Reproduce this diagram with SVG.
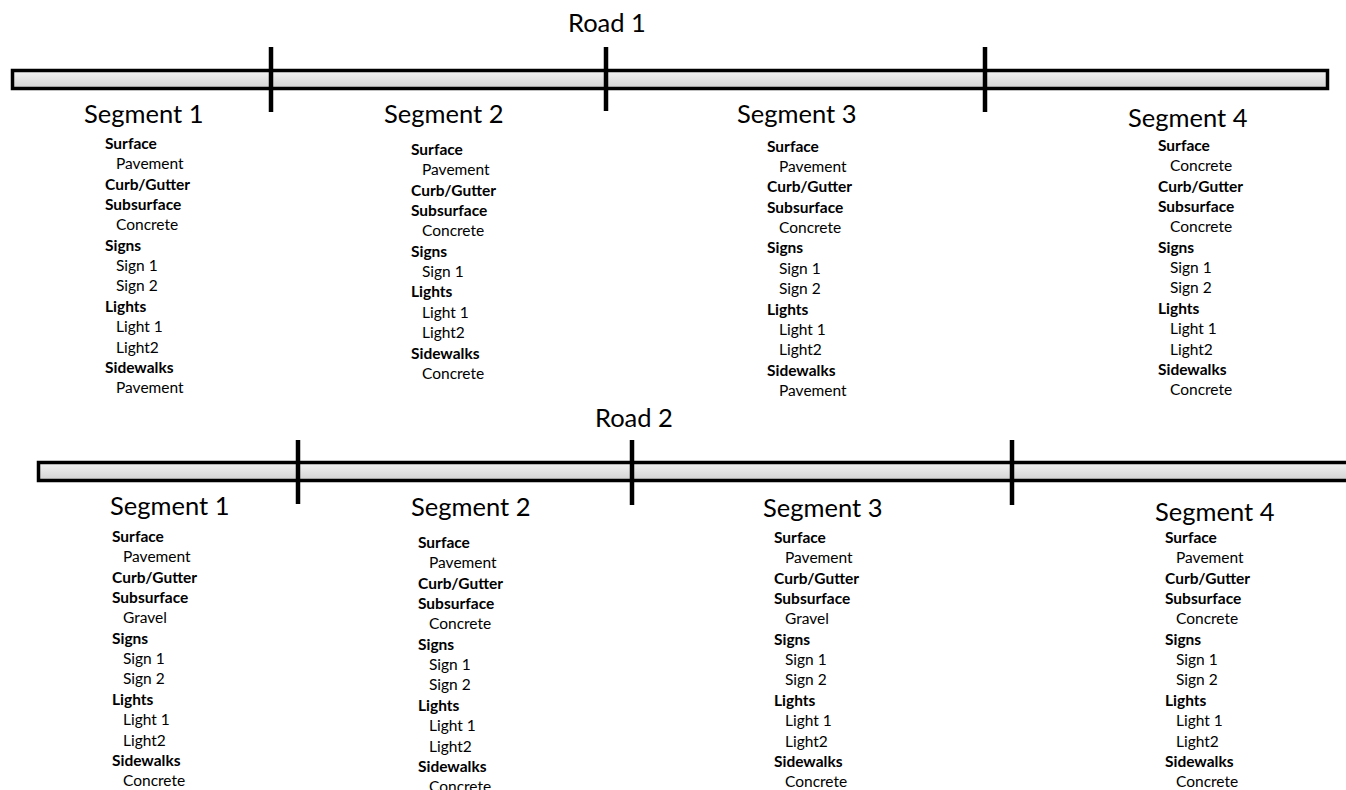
<svg xmlns="http://www.w3.org/2000/svg" width="1346" height="790" viewBox="0 0 1346 790">
  <style>
    .title { font-family: Lato, "Liberation Sans", sans-serif; font-size: 25.5px; fill: #000; }
    .list { font-family: Lato, "Liberation Sans", sans-serif; font-size: 15.5px; fill: #000; }
    .h { font-weight: bold; }
    .bar { fill: url(#barFill); stroke: #000; stroke-width: 3.5; }
    .div { stroke: #000; stroke-width: 4.5; }
  </style>
  <defs>
    <linearGradient id="barFill" x1="0" y1="0" x2="0" y2="1">
      <stop offset="0" stop-color="#f3f3f3"/>
      <stop offset="1" stop-color="#d2d2d2"/>
    </linearGradient>
  </defs>
  <rect width="1346" height="790" fill="#fff"/>

  <!-- Road 1 -->
  <g id="road1">
    <text class="title" x="568" y="32">Road 1</text>
    <rect class="bar" x="12.5" y="70.5" width="1315" height="18"/>
    <line class="div" x1="271" y1="47" x2="271" y2="112"/>
    <line class="div" x1="606" y1="47" x2="606" y2="111"/>
    <line class="div" x1="985" y1="47" x2="985" y2="112"/>
  </g>

  <g id="r1-seg1">
    <text class="title" x="84" y="123">Segment 1</text>
    <text class="list" y="149">
      <tspan class="h" x="105">Surface</tspan>
      <tspan x="116" dy="20.35">Pavement</tspan>
      <tspan class="h" x="105" dy="20.35">Curb/Gutter</tspan>
      <tspan class="h" x="105" dy="20.35">Subsurface</tspan>
      <tspan x="116" dy="20.35">Concrete</tspan>
      <tspan class="h" x="105" dy="20.35">Signs</tspan>
      <tspan x="116" dy="20.35">Sign 1</tspan>
      <tspan x="116" dy="20.35">Sign 2</tspan>
      <tspan class="h" x="105" dy="20.35">Lights</tspan>
      <tspan x="116" dy="20.35">Light 1</tspan>
      <tspan x="116" dy="20.35">Light2</tspan>
      <tspan class="h" x="105" dy="20.35">Sidewalks</tspan>
      <tspan x="116" dy="20.35">Pavement</tspan>
    </text>
  </g>

  <g id="r1-seg2">
    <text class="title" x="384" y="123">Segment 2</text>
    <text class="list" y="155">
      <tspan class="h" x="411">Surface</tspan>
      <tspan x="422" dy="20.35">Pavement</tspan>
      <tspan class="h" x="411" dy="20.35">Curb/Gutter</tspan>
      <tspan class="h" x="411" dy="20.35">Subsurface</tspan>
      <tspan x="422" dy="20.35">Concrete</tspan>
      <tspan class="h" x="411" dy="20.35">Signs</tspan>
      <tspan x="422" dy="20.35">Sign 1</tspan>
      <tspan class="h" x="411" dy="20.35">Lights</tspan>
      <tspan x="422" dy="20.35">Light 1</tspan>
      <tspan x="422" dy="20.35">Light2</tspan>
      <tspan class="h" x="411" dy="20.35">Sidewalks</tspan>
      <tspan x="422" dy="20.35">Concrete</tspan>
    </text>
  </g>

  <g id="r1-seg3">
    <text class="title" x="737" y="123">Segment 3</text>
    <text class="list" y="151.7">
      <tspan class="h" x="767">Surface</tspan>
      <tspan x="779" dy="20.35">Pavement</tspan>
      <tspan class="h" x="767" dy="20.35">Curb/Gutter</tspan>
      <tspan class="h" x="767" dy="20.35">Subsurface</tspan>
      <tspan x="779" dy="20.35">Concrete</tspan>
      <tspan class="h" x="767" dy="20.35">Signs</tspan>
      <tspan x="779" dy="20.35">Sign 1</tspan>
      <tspan x="779" dy="20.35">Sign 2</tspan>
      <tspan class="h" x="767" dy="20.35">Lights</tspan>
      <tspan x="779" dy="20.35">Light 1</tspan>
      <tspan x="779" dy="20.35">Light2</tspan>
      <tspan class="h" x="767" dy="20.35">Sidewalks</tspan>
      <tspan x="779" dy="20.35">Pavement</tspan>
    </text>
  </g>

  <g id="r1-seg4">
    <text class="title" x="1128" y="127">Segment 4</text>
    <text class="list" y="151">
      <tspan class="h" x="1158">Surface</tspan>
      <tspan x="1170" dy="20.35">Concrete</tspan>
      <tspan class="h" x="1158" dy="20.35">Curb/Gutter</tspan>
      <tspan class="h" x="1158" dy="20.35">Subsurface</tspan>
      <tspan x="1170" dy="20.35">Concrete</tspan>
      <tspan class="h" x="1158" dy="20.35">Signs</tspan>
      <tspan x="1170" dy="20.35">Sign 1</tspan>
      <tspan x="1170" dy="20.35">Sign 2</tspan>
      <tspan class="h" x="1158" dy="20.35">Lights</tspan>
      <tspan x="1170" dy="20.35">Light 1</tspan>
      <tspan x="1170" dy="20.35">Light2</tspan>
      <tspan class="h" x="1158" dy="20.35">Sidewalks</tspan>
      <tspan x="1170" dy="20.35">Concrete</tspan>
    </text>
  </g>

  <!-- Road 2 -->
  <g id="road2">
    <text class="title" x="595" y="427">Road 2</text>
    <rect class="bar" x="38.5" y="462.5" width="1320" height="18"/>
    <line class="div" x1="298" y1="440" x2="298" y2="504"/>
    <line class="div" x1="632" y1="440" x2="632" y2="505"/>
    <line class="div" x1="1012" y1="440" x2="1012" y2="505"/>
  </g>

  <g id="r2-seg1">
    <text class="title" x="110" y="515">Segment 1</text>
    <text class="list" y="542">
      <tspan class="h" x="112">Surface</tspan>
      <tspan x="123" dy="20.35">Pavement</tspan>
      <tspan class="h" x="112" dy="20.35">Curb/Gutter</tspan>
      <tspan class="h" x="112" dy="20.35">Subsurface</tspan>
      <tspan x="123" dy="20.35">Gravel</tspan>
      <tspan class="h" x="112" dy="20.35">Signs</tspan>
      <tspan x="123" dy="20.35">Sign 1</tspan>
      <tspan x="123" dy="20.35">Sign 2</tspan>
      <tspan class="h" x="112" dy="20.35">Lights</tspan>
      <tspan x="123" dy="20.35">Light 1</tspan>
      <tspan x="123" dy="20.35">Light2</tspan>
      <tspan class="h" x="112" dy="20.35">Sidewalks</tspan>
      <tspan x="123" dy="20.35">Concrete</tspan>
    </text>
  </g>

  <g id="r2-seg2">
    <text class="title" x="411" y="516">Segment 2</text>
    <text class="list" y="548">
      <tspan class="h" x="418">Surface</tspan>
      <tspan x="429" dy="20.35">Pavement</tspan>
      <tspan class="h" x="418" dy="20.35">Curb/Gutter</tspan>
      <tspan class="h" x="418" dy="20.35">Subsurface</tspan>
      <tspan x="429" dy="20.35">Concrete</tspan>
      <tspan class="h" x="418" dy="20.35">Signs</tspan>
      <tspan x="429" dy="20.35">Sign 1</tspan>
      <tspan x="429" dy="20.35">Sign 2</tspan>
      <tspan class="h" x="418" dy="20.35">Lights</tspan>
      <tspan x="429" dy="20.35">Light 1</tspan>
      <tspan x="429" dy="20.35">Light2</tspan>
      <tspan class="h" x="418" dy="20.35">Sidewalks</tspan>
      <tspan x="429" dy="20.35">Concrete</tspan>
    </text>
  </g>

  <g id="r2-seg3">
    <text class="title" x="763" y="517">Segment 3</text>
    <text class="list" y="543">
      <tspan class="h" x="774">Surface</tspan>
      <tspan x="785" dy="20.35">Pavement</tspan>
      <tspan class="h" x="774" dy="20.35">Curb/Gutter</tspan>
      <tspan class="h" x="774" dy="20.35">Subsurface</tspan>
      <tspan x="785" dy="20.35">Gravel</tspan>
      <tspan class="h" x="774" dy="20.35">Signs</tspan>
      <tspan x="785" dy="20.35">Sign 1</tspan>
      <tspan x="785" dy="20.35">Sign 2</tspan>
      <tspan class="h" x="774" dy="20.35">Lights</tspan>
      <tspan x="785" dy="20.35">Light 1</tspan>
      <tspan x="785" dy="20.35">Light2</tspan>
      <tspan class="h" x="774" dy="20.35">Sidewalks</tspan>
      <tspan x="785" dy="20.35">Concrete</tspan>
    </text>
  </g>

  <g id="r2-seg4">
    <text class="title" x="1155" y="521">Segment 4</text>
    <text class="list" y="543">
      <tspan class="h" x="1165">Surface</tspan>
      <tspan x="1176" dy="20.35">Pavement</tspan>
      <tspan class="h" x="1165" dy="20.35">Curb/Gutter</tspan>
      <tspan class="h" x="1165" dy="20.35">Subsurface</tspan>
      <tspan x="1176" dy="20.35">Concrete</tspan>
      <tspan class="h" x="1165" dy="20.35">Signs</tspan>
      <tspan x="1176" dy="20.35">Sign 1</tspan>
      <tspan x="1176" dy="20.35">Sign 2</tspan>
      <tspan class="h" x="1165" dy="20.35">Lights</tspan>
      <tspan x="1176" dy="20.35">Light 1</tspan>
      <tspan x="1176" dy="20.35">Light2</tspan>
      <tspan class="h" x="1165" dy="20.35">Sidewalks</tspan>
      <tspan x="1176" dy="20.35">Concrete</tspan>
    </text>
  </g>
</svg>
